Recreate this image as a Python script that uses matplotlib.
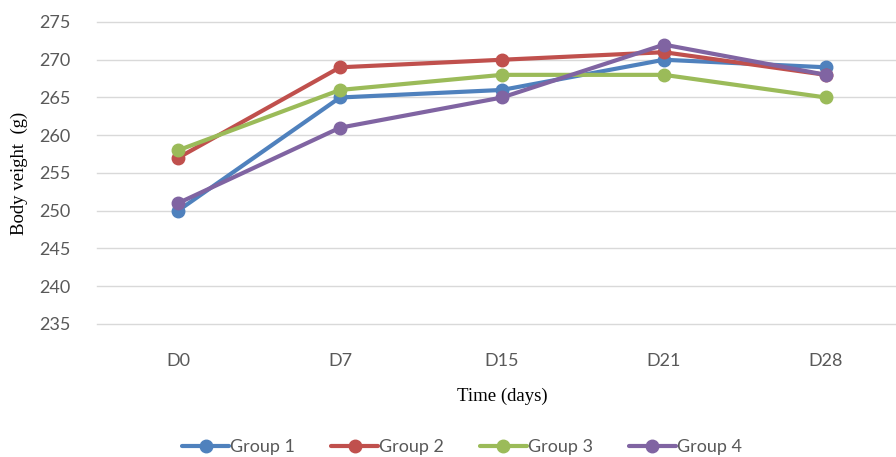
import matplotlib
matplotlib.use("Agg")
import matplotlib.pyplot as plt

days = ["D0", "D7", "D15", "D21", "D28"]
group1 = [250, 265, 266, 270, 269]
group2 = [257, 269, 270, 271, 268]
group3 = [258, 266, 268, 268, 265]
group4 = [251, 261, 265, 272, 268]
labels = ["Group 1", "Group 2", "Group 3", "Group 4"]
colors = ["#4F81BD", "#C0504D", "#9BBB59", "#8064A2"]
yticks = [235, 240, 245, 250, 255, 260, 265, 270, 275]

fig = plt.figure(figsize=(8.96, 4.57), dpi=100)
ax = fig.add_axes([97/896, 1-324/457, 810/896, 302/457])

x = list(range(len(days)))
for s, lab, c in zip([group1, group2, group3, group4], labels, colors):
    ax.plot(x, s, color=c, lw=3, marker="o", ms=9, label=lab, solid_capstyle="round")

ax.set_xlim(-0.5, 4.5)
ax.set_ylim(235, 275)
ax.set_yticks(yticks)
ax.set_xticks(x)
ax.set_xticklabels(days)
ax.grid(axis="y", color="#D9D9D9", lw=1)
for gl in ax.get_ygridlines():
    gl.set_clip_on(False)
ax.set_axisbelow(True)
for sp in ax.spines.values():
    sp.set_visible(False)
ax.tick_params(length=0, labelsize=13, labelcolor="#595959", pad=0)
ax.tick_params(axis="y", pad=19)
ax.tick_params(axis="x", pad=21)
for t in ax.get_xticklabels() + ax.get_yticklabels():
    t.set_fontfamily("Lato")

ax.set_ylabel("Body veight  (g)", fontfamily="Liberation Serif", fontsize=13.5, labelpad=8)
ax.set_xlabel("Time (days)", fontfamily="Liberation Serif", fontsize=13.5, labelpad=13)

leg = fig.legend(loc="center", bbox_to_anchor=(462/896, 1-447/457), ncol=4, frameon=False,
                 prop={"family": "Lato", "size": 13}, handlelength=2.6, handletextpad=0.05,
                 columnspacing=2.0)
for t in leg.get_texts():
    t.set_color("#595959")

fig.savefig("out.png", dpi=100)
